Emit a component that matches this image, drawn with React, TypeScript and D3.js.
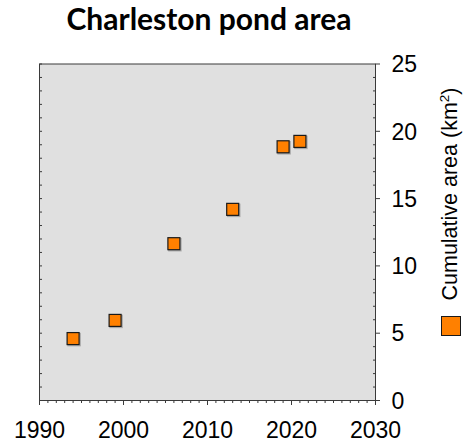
import React from "react";
import * as d3 from "d3";

// Survey years and cumulative pond area (km²)
const years = [1994, 1999, 2006, 2013, 2019, 2021];
const areas = [4.6, 5.95, 11.65, 14.2, 18.85, 19.25];

const xTickLabels = [1990, 2000, 2010, 2020, 2030];
const yTickLabels = [0, 5, 10, 15, 20, 25];

const W = 471;
const H = 444;
const plot = { left: 39.5, right: 375.5, top: 64, bottom: 400.5 };

export default function App() {
  const x = d3.scaleLinear().domain([1990, 2030]).range([plot.left, plot.right]);
  const y = d3.scaleLinear().domain([0, 25]).range([plot.bottom, plot.top]);

  const xMinor = d3.range(1990, 2031, 1);
  const yMinor = d3.range(0, 26, 1);
  const tickFont = "'Liberation Sans', Arial, sans-serif";
  const marker = 12;

  return (
    <svg width={W} height={H} style={{ position: "absolute", left: 0, top: 0 }}>
      <text
        x={209}
        y={29.5}
        textAnchor="middle"
        fontFamily="Lato, 'Open Sans', sans-serif"
        fontWeight="bold"
        fontSize={30}
        fill="#000"
      >
        Charleston pond area
      </text>

      <rect
        x={plot.left}
        y={plot.top}
        width={plot.right - plot.left}
        height={plot.bottom - plot.top}
        fill="#e0e0e0"
        stroke="#3a3a3a"
        strokeWidth={1}
      />

      {/* left axis: inward minor ticks */}
      {yMinor.map((v) => (
        <line key={"yl" + v} x1={plot.left} x2={plot.left + 2.5} y1={y(v)} y2={y(v)} stroke="#3a3a3a" />
      ))}
      {/* right axis: minor ticks inward, major ticks outward */}
      {yMinor.map((v) =>
        v % 5 === 0 ? (
          <line key={"yr" + v} x1={plot.right} x2={plot.right + 4.5} y1={y(v)} y2={y(v)} stroke="#3a3a3a" />
        ) : (
          <line key={"yr" + v} x1={plot.right - 2.5} x2={plot.right} y1={y(v)} y2={y(v)} stroke="#3a3a3a" />
        )
      )}
      {/* bottom axis: minor ticks every year, longer every decade */}
      {xMinor.map((v) => (
        <line
          key={"xb" + v}
          x1={x(v)}
          x2={x(v)}
          y1={plot.bottom}
          y2={plot.bottom + (v % 10 === 0 ? 4.5 : 2.5)}
          stroke="#3a3a3a"
        />
      ))}

      {xTickLabels.map((v) => (
        <text key={"xt" + v} x={x(v)} y={438} textAnchor="middle" fontFamily={tickFont} fontSize={23} fill="#000">
          {v}
        </text>
      ))}
      {yTickLabels.map((v) => (
        <text
          key={"yt" + v}
          x={391.5}
          y={y(v)}
          dy="0.36em"
          textAnchor="start"
          fontFamily={tickFont}
          fontSize={23}
          fill="#000"
        >
          {v}
        </text>
      ))}

      <text
        transform={`translate(457, 194) rotate(-90)`}
        textAnchor="middle"
        fontFamily={tickFont}
        fontSize={21.5}
        fill="#000"
      >
        Cumulative area (km
        <tspan fontSize={13.5} dy={-8.5}>2</tspan>
        <tspan dy={8.5}>)</tspan>
      </text>

      <rect x={441.5} y={316.5} width={19} height={19} fill="#ff8000" stroke="#1a1a1a" strokeWidth={1} />

      {years.map((yr, i) => (
        <g key={"m" + yr}>
          <rect
            x={x(yr) - marker / 2 + 1}
            y={y(areas[i]) - marker / 2 + 1}
            width={marker}
            height={marker}
            fill="none"
            stroke="#000"
            strokeOpacity={0.25}
            strokeWidth={1.5}
          />
          <rect
            x={x(yr) - marker / 2}
            y={y(areas[i]) - marker / 2}
            width={marker}
            height={marker}
            fill="#ff8000"
            stroke="#1a1a1a"
            strokeWidth={1.2}
          />
        </g>
      ))}
    </svg>
  );
}
